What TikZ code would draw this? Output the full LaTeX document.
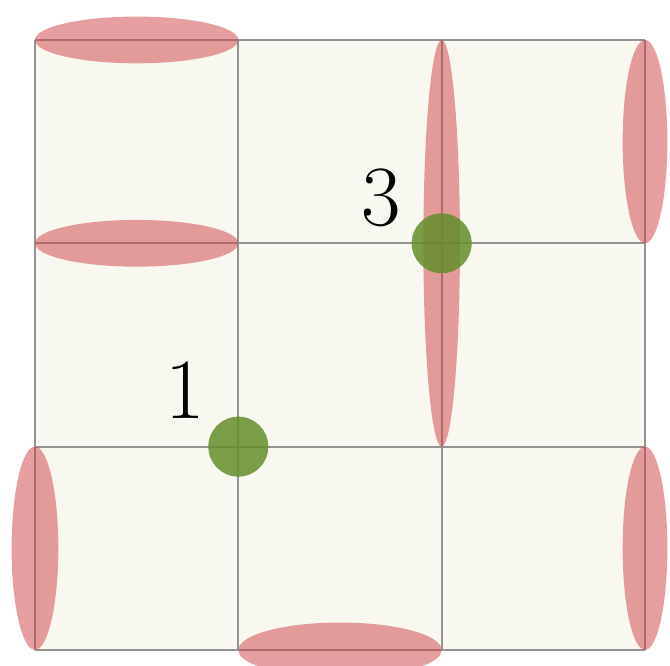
\documentclass[tikz,border=0pt]{standalone}
\usepackage{amsmath}
\usepackage{tikz}

\definecolor{cellbg}{RGB}{248,248,240}
\definecolor{blobred}{RGB}{206,64,66}
\definecolor{dotgreen}{RGB}{100,142,42}

\begin{document}
\begin{tikzpicture}[
    blob/.style={fill=blobred, fill opacity=0.5},
    dot/.style={circle, fill=dotgreen, fill opacity=0.85, inner sep=0pt, minimum size=5.9mm},
    lbl/.style={font=\fontsize{24}{24}\selectfont}
]
\useasboundingbox (-0.344,-0.15) rectangle (6.246,6.393);
\fill[cellbg] (0,0) rectangle (6,6);
\draw[gray!85, line width=0.5pt] (0,0) grid[step=2] (6,6);

\fill[blob] (1,6) ellipse (1 and 0.23);
\fill[blob] (1,4) ellipse (1 and 0.23);
\fill[blob] (3,0) ellipse (1 and 0.27);
\fill[blob] (4,4) ellipse (0.18 and 2);
\fill[blob] (6,5) ellipse (0.22 and 1);
\fill[blob] (0,1) ellipse (0.23 and 1);
\fill[blob] (6,1) ellipse (0.22 and 1);

\node[dot] (p1) at (2,2) {};
\node[dot] (p3) at (4,4) {};
\node[lbl] (l1) at (1.48,2.56) {1};
\node[lbl] (l3) at (3.41,4.45) {3};
\end{tikzpicture}
\end{document}
